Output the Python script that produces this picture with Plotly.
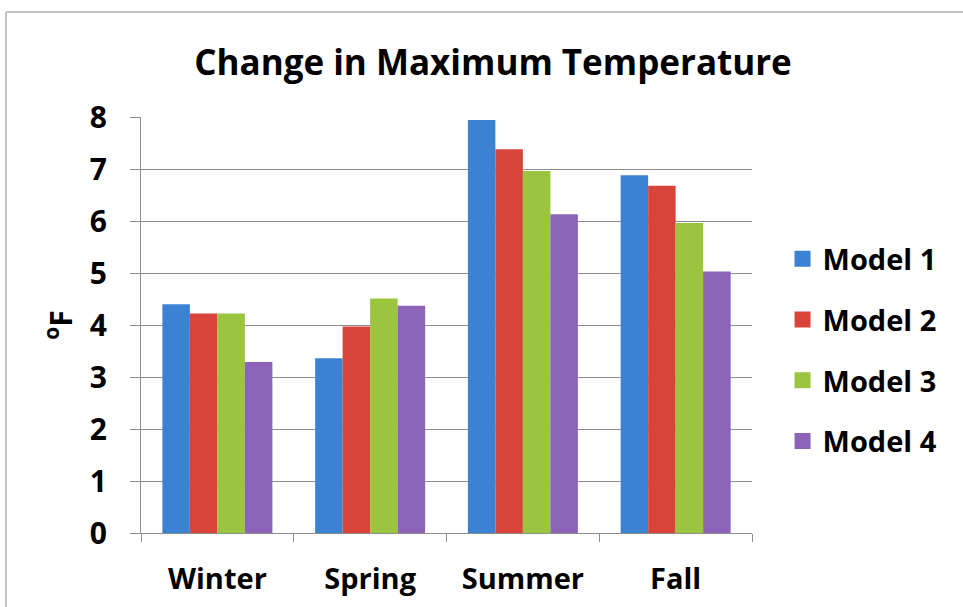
import plotly.graph_objects as go

# Seasonal change in maximum temperature (°F) for four climate models
seasons = ["Winter", "Spring", "Summer", "Fall"]
model_names = ["Model 1", "Model 2", "Model 3", "Model 4"]
model1 = [4.40, 3.36, 7.94, 6.88]
model2 = [4.22, 3.97, 7.38, 6.68]
model3 = [4.22, 4.51, 6.96, 5.96]
model4 = [3.29, 4.37, 6.13, 5.03]
y_ticks = [0, 1, 2, 3, 4, 5, 6, 7, 8]

colors = ["#3b83d2", "#d9443a", "#9bc43f", "#8b63b7"]
series = [model1, model2, model3, model4]

FONT = "Open Sans"
GRID = "#8e8e8e"

fig = go.Figure()
for name, vals, col in zip(model_names, series, colors):
    fig.add_trace(go.Bar(x=seasons, y=vals, name=name, showlegend=False,
                         marker=dict(color=col, line=dict(width=0))))
# Legend entries with large square swatches
for i, (name, col) in enumerate(zip(model_names, colors)):
    fig.add_trace(go.Scatter(x=[None], y=[None], mode="markers", name="<b>%s</b>" % name,
                             legendgroup="g%d" % i,
                             marker=dict(symbol="square", size=21, color=col)))

fig.update_layout(
    width=963, height=607,
    margin=dict(l=141, r=211, t=117, b=74, autoexpand=False),
    paper_bgcolor="white", plot_bgcolor="white",
    barmode="group", bargap=0.28, bargroupgap=0,
    title=dict(text="<b>Change in Maximum Temperature</b>", x=493 / 963, xanchor="center",
               xref="container", y=1 - 63 / 607, yanchor="middle",
               font=dict(family=FONT, size=35, color="black")),
    font=dict(family=FONT, color="black"),
    legend=dict(x=1.05, xanchor="left", y=(533 - 350) / 416, yanchor="middle",
                font=dict(family=FONT, size=29, color="black"),
                tracegroupgap=20, itemwidth=30, bgcolor="rgba(0,0,0,0)"),
    showlegend=True,
)

fig.update_xaxes(
    type="category", showgrid=False, showline=True, linecolor=GRID, linewidth=1,
    ticks="outside", tickson="boundaries", ticklen=8, tickcolor=GRID,
    tickfont=dict(family=FONT, size=29, color="black"),
    tickvals=seasons, ticktext=["<b>%s</b>" % s for s in seasons],
    ticklabelstandoff=20, automargin=False,
)
fig.update_yaxes(
    range=[0, 8], tickvals=y_ticks, ticktext=["<b>%d</b>" % v for v in y_ticks],
    showgrid=True, gridcolor=GRID, gridwidth=1,
    showline=True, linecolor=GRID, linewidth=1, zeroline=False,
    ticks="outside", ticklen=10, tickcolor=GRID,
    tickfont=dict(family=FONT, size=30, color="black"),
    ticklabelstandoff=17, automargin=False,
    title=dict(text="<b><sup>o</sup>F</b>", font=dict(family=FONT, size=30, color="black"),
               standoff=8),
)

# Light frame around the chart area
fig.add_shape(type="line", xref="paper", yref="paper",
              x0=(6 - 141) / 611, x1=(970 - 141) / 611, y0=(533 - 12) / 416, y1=(533 - 12) / 416,
              line=dict(color="#c4c4c4", width=2), layer="below")
fig.add_shape(type="line", xref="paper", yref="paper",
              x0=(6 - 141) / 611, x1=(6 - 141) / 611, y0=(533 - 12) / 416, y1=(533 - 620) / 416,
              line=dict(color="#c4c4c4", width=2), layer="below")

fig.write_html("out.html")
